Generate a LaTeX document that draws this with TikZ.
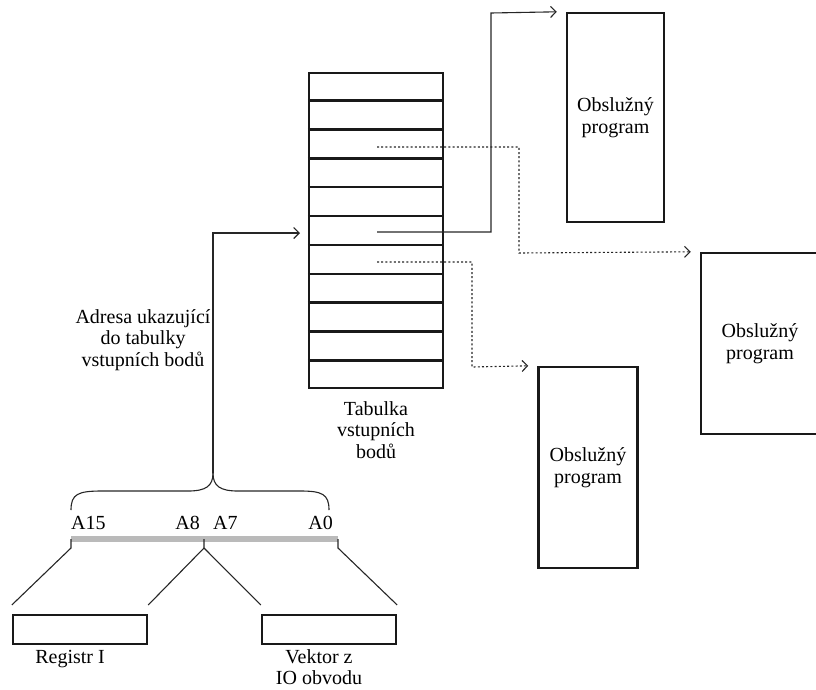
\documentclass[tikz,border=0pt]{standalone}
\usepackage{fontspec}
\setmainfont{Liberation Serif}
\usetikzlibrary{arrows.meta,calc}

\begin{document}
\begin{tikzpicture}[x=1pt,y=-1pt,
  every node/.style={font=\fontsize{20}{21.5}\selectfont, inner sep=0pt},
  heavybox/.style={draw=black!90, line width=2.4pt, rectangle},
  conn/.style={draw=black!85, line width=1.1pt},
  dotconn/.style={draw=black!85, line width=1.1pt, dash pattern=on 2pt off 2.2pt},
  tip/.style={-{Straight Barb[length=5.5pt,width=11pt,line width=1.1pt]}},
  lbl/.style={align=center},
]
\clip (0,0) rectangle (816,689);
\useasboundingbox (0,0) rectangle (816,689);

% table of entry points
\node[heavybox, minimum width=134pt, minimum height=315pt] (tab) at (376,230.5) {};
\foreach \k in {1,...,10}
  \draw[black!90, line width=2.4pt] ($(tab.north west)!\k/11!(tab.south west)$) -- ($(tab.north east)!\k/11!(tab.south east)$);
\node[lbl, anchor=north] (tablbl) at (376,401) {Tabulka\\vstupních\\bodů};

% service routines
\node[heavybox, lbl, minimum width=97pt, minimum height=209pt] (p1) at (615.5,117.5) {Obslužný\\program};
\node[heavybox, lbl, minimum width=118pt, minimum height=181pt] (p2) at (760,343.5) {Obslužný\\program};
\node[heavybox, lbl, minimum width=99pt, minimum height=201pt] (p3) at (588,467.5) {Obslužný\\program};

% entries pointing to routines
\coordinate (e3) at (377,147);
\coordinate (e6) at (377,232);
\coordinate (e7) at (377,262);
\draw[conn, tip] (e6) -- (491,232) -- (491,13) -- ([xshift=-9pt]p1.north west);
\draw[dotconn, tip] (e3) -- (519,147) -- (519,253) -- ([xshift=-9pt]p2.north west);
\draw[dotconn, tip] (e7) -- (472,262) -- (472,367) -- ([xshift=-9pt]p3.north west);

% address into the table
\coordinate (btip) at (213,473);
\coordinate (aend) at (300,233);
\draw[conn, tip] (btip) -- (btip |- aend) -- (aend);
\node[lbl] (addr) at (143,340) {Adresa ukazující\\do tabulky\\vstupních bodů};

% brace over the address bits
\draw[conn] (71,510) .. controls (71,494) and (78,491) .. (102,491) -- (188,491)
  .. controls (206,491) and (213,486) .. (btip);
\draw[conn] (btip) .. controls (213,486) and (220,491) .. (238,491) -- (300,491)
  .. controls (322,491) and (329,494) .. (329,510);

% address bus
\coordinate (bl) at (71,539);
\coordinate (bm) at (204,539);
\coordinate (br) at (338,539);
\draw[black!27, line width=5.5pt] (bl) -- (br);
\node[anchor=base west] (a15) at (71,529) {A15};
\node[anchor=base east] (a8) at (200,529) {A8};
\node[anchor=base west] (a7) at (213,529) {A7};
\node[anchor=base east] (a0) at (333,529) {A0};

% source registers
\node[heavybox, minimum width=134pt, minimum height=29pt] (regI) at (80,629.5) {};
\node[heavybox, minimum width=134pt, minimum height=29pt] (vec) at (329,629.5) {};
\node[anchor=base] (regIlbl) at (70,663) {Registr I};
\node[lbl, anchor=north] (veclbl) at (319,649) {Vektor z\\IO obvodu};

% fan-in lines from registers to bus
\coordinate (tl) at (71,548);
\coordinate (tm) at (204,548);
\coordinate (tr) at (338,548);
\draw[conn] (bl) -- (tl) -- (regI.north west |- 0,605);
\draw[conn] (br) -- (tr) -- (vec.north east |- 0,605);
\draw[conn] (bm) -- (tm) -- (regI.north east |- 0,605);
\draw[conn] (tm) -- (vec.north west |- 0,605);
\end{tikzpicture}
\end{document}
